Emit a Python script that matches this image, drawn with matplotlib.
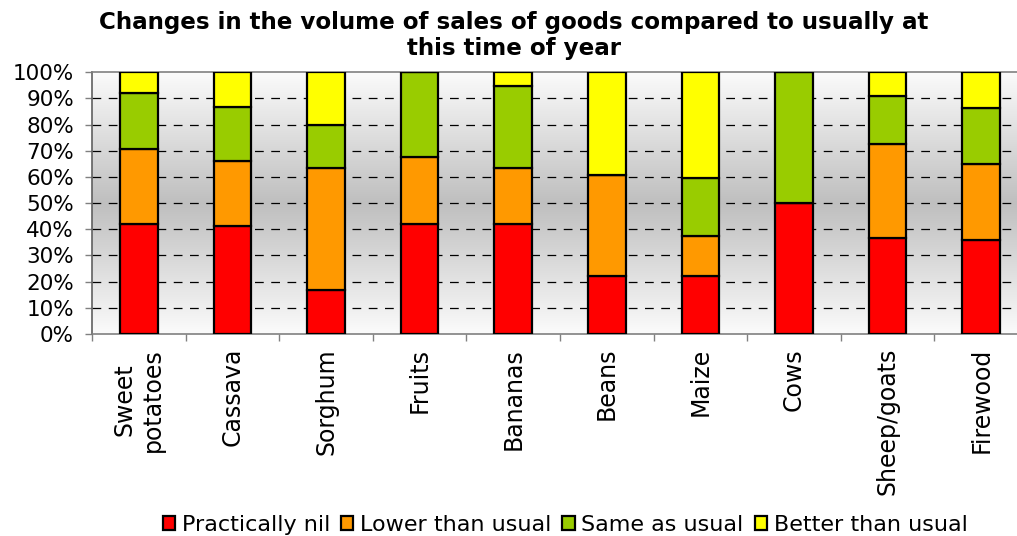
import numpy as np
import matplotlib
matplotlib.use("Agg")
import matplotlib.pyplot as plt
from matplotlib.colors import LinearSegmentedColormap

categories = ["Sweet\npotatoes", "Cassava", "Sorghum", "Fruits", "Bananas",
              "Beans", "Maize", "Cows", "Sheep/goats", "Firewood"]
series_names = ["Practically nil", "Lower than usual", "Same as usual", "Better than usual"]
practically_nil = [42.0, 41.1, 16.7, 41.9, 41.9, 22.0, 22.0, 50.0, 36.6, 35.8]
lower_than_usual = [28.7, 25.1, 46.6, 25.9, 21.4, 38.9, 15.3, 0.0, 35.9, 29.0]
same_as_usual = [21.5, 20.7, 16.7, 32.2, 31.3, 0.0, 22.2, 50.0, 18.3, 21.4]
better_than_usual = [7.8, 13.1, 20.0, 0.0, 5.4, 39.1, 40.5, 0.0, 9.2, 13.8]
colors = ["#ff0000", "#ff9900", "#99cc00", "#ffff00"]

W, H = 1017, 536
fig = plt.figure(figsize=(W / 100, H / 100), dpi=100)
ax = fig.add_axes([92 / W, (H - 334) / H, (1028 - 92) / W, (334 - 72.3) / H])

# fond en degrade : blanc en haut et en bas, gris au milieu
grad = np.abs(np.linspace(-1, 1, 512)).reshape(-1, 1)
cmap = LinearSegmentedColormap.from_list("fond", ["#bfbfbf", "#fbfbfb"], N=1024)
ax.imshow(grad, aspect="auto", cmap=cmap, extent=[0, 1, 0, 1],
          transform=ax.transAxes, zorder=0, interpolation="bilinear")

x = np.arange(len(categories))
bottom = np.zeros(len(categories))
for name, vals, col in zip(series_names,
                           [practically_nil, lower_than_usual, same_as_usual, better_than_usual],
                           colors):
    vals = np.array(vals)
    ax.bar(x, vals, bottom=bottom, width=0.4, color=col, edgecolor="black",
           linewidth=1.6, label=name, zorder=3)
    bottom += vals

ax.set_xlim(-0.5, len(categories) - 0.5)
ax.set_ylim(0, 100)

for yv in range(10, 100, 10):
    ax.axhline(yv, color="black", linewidth=0.9, dashes=(7, 6), zorder=2)

ax.set_yticks(range(0, 101, 10))
ax.set_yticklabels([f"{v}%" for v in range(0, 101, 10)], fontsize=15.5)
ax.tick_params(axis="y", length=5, width=1, color="#808080", pad=8)

ax.set_xticks(x)
ax.set_xticklabels(categories, rotation=90, fontsize=17, ha="center", va="top",
                   multialignment="center")
ax.tick_params(axis="x", which="major", length=0, pad=10)
ax.set_xticks(np.arange(-0.5, len(categories), 1), minor=True)
ax.tick_params(axis="x", which="minor", length=5, width=1, color="#808080")

for side in ["left", "bottom", "top", "right"]:
    ax.spines[side].set_color("#808080")
    ax.spines[side].set_linewidth(1.2)
ax.spines["left"].set_color("#606060")

fig.text(514 / W, 1 - 22 / H, "Changes in the volume of sales of goods compared to usually at",
         ha="center", va="center", fontsize=16.6, fontweight="bold")
fig.text(514 / W, 1 - 48 / H, "this time of year",
         ha="center", va="center", fontsize=16.6, fontweight="bold")

fig.legend(loc="center", bbox_to_anchor=(565 / W, 1 - 525 / H), ncol=4, frameon=False,
           fontsize=16, handlelength=0.55, handleheight=0.55, handletextpad=0.3,
           columnspacing=0.5, borderaxespad=0)

fig.savefig("out.png", dpi=100)
